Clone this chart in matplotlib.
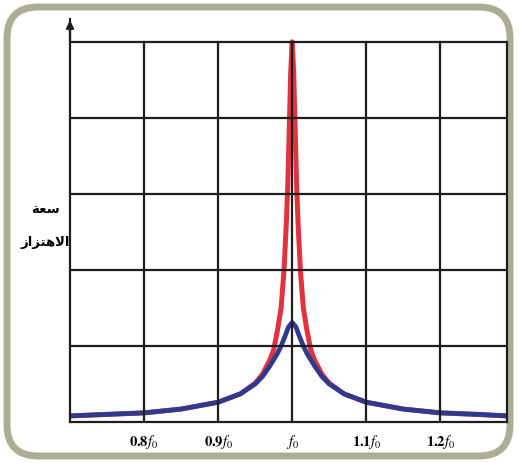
import numpy as np
import matplotlib
matplotlib.use("Agg")
import matplotlib.pyplot as plt
from matplotlib.patches import FancyBboxPatch

# frequency ratio f/f0 and amplitudes
x_blue = [0.70, 0.75, 0.80, 0.85, 0.90, 0.93, 0.95, 0.96, 0.97, 0.98, 0.985, 0.99, 0.995, 1.00,
          1.005, 1.01, 1.015, 1.02, 1.03, 1.04, 1.05, 1.07, 1.10, 1.15, 1.20, 1.25, 1.29]
y_blue = [0.08, 0.10, 0.12, 0.17, 0.26, 0.37, 0.50, 0.60, 0.74, 0.90, 1.00, 1.12, 1.25, 1.31,
          1.25, 1.12, 1.00, 0.90, 0.74, 0.60, 0.50, 0.37, 0.26, 0.17, 0.12, 0.10, 0.08]

x_red = [0.70, 0.75, 0.80, 0.85, 0.90, 0.93, 0.95, 0.96, 0.97, 0.975, 0.98, 0.985, 0.989,
         0.992, 0.994, 0.996, 0.998, 1.00,
         1.002, 1.004, 1.006, 1.008, 1.011, 1.015, 1.02, 1.025, 1.03, 1.04, 1.05,
         1.07, 1.10, 1.15, 1.20, 1.25, 1.29]
y_red = [0.08, 0.10, 0.12, 0.17, 0.26, 0.37, 0.51, 0.63, 0.82, 0.95, 1.20, 1.50, 2.00,
         2.60, 3.10, 3.85, 4.60, 5.00,
         4.60, 3.85, 3.10, 2.60, 2.00, 1.50, 1.20, 0.95, 0.82, 0.63, 0.51,
         0.37, 0.26, 0.17, 0.12, 0.10, 0.08]

tick_pos = [0.8, 0.9, 1.0, 1.1, 1.2]
tick_lab = [r'$\mathbf{0.8}f_0$', r'$\mathbf{0.9}f_0$', r'$f_0$', r'$\mathbf{1.1}f_0$', r'$\mathbf{1.2}f_0$']

# Arabic label, presentation forms in visual order
lab1 = '\uFE94\uFECC\uFEB3'                               # سعة
lab2 = '\uFEAF\uFE8D\uFEB0\uFE98\uFEEB\uFEFB\uFE8D'       # الاهتزاز

plt.rcParams['mathtext.fontset'] = 'stix'

fig = plt.figure(figsize=(5.2, 4.64), dpi=100)
fig.patch.set_facecolor('white')

frame = FancyBboxPatch((7 / 520, 7 / 464), 503 / 520, 449 / 464,
                       boxstyle="round,pad=0,rounding_size=0.06",
                       transform=fig.transFigure, fc='none', ec='#adad95', lw=5,
                       mutation_aspect=520 / 464, zorder=-1)
fig.patches.append(frame)

ax = fig.add_axes([70 / 520, 1 - 423 / 464, 437 / 520, (423 - 20) / 464])
ax.set_facecolor('none')
ax.set_xlim(0.7, 1.29)
ax.set_ylim(0, 5.3)

ax.plot(x_red, y_red, color='#e3323f', lw=3.6, zorder=2, solid_joinstyle='round')
ax.plot(x_blue, y_blue, color='#2e3a8e', lw=3.4, zorder=3, solid_joinstyle='round')

gc = '#1e1e1e'
for v in [0.8, 0.9, 1.0, 1.1, 1.2]:
    ax.plot([v, v], [0, 5], color=gc, lw=1.6, zorder=4)
for h in [1, 2, 3, 4, 5]:
    ax.plot([0.7, 1.29], [h, h], color=gc, lw=1.6, zorder=4)

ax.spines['top'].set_visible(False)
ax.spines['right'].set_bounds(0, 5)
for s in ['left', 'right', 'bottom']:
    ax.spines[s].set_color(gc)
    ax.spines[s].set_linewidth(1.6)
    ax.spines[s].set_zorder(5)

ax.annotate('', xy=(0.7, 5.32), xytext=(0.7, 5.0),
            arrowprops=dict(arrowstyle='-|>', color=gc, lw=1.6, mutation_scale=11),
            annotation_clip=False)

ax.set_xticks(tick_pos)
ax.set_xticklabels(tick_lab, fontsize=10.5)
ax.tick_params(axis='x', length=0, pad=7)
ax.set_yticks([])

fig.text(46 / 520, 1 - 210 / 464, lab1, fontsize=9.5, fontweight='bold',
         ha='center', va='center', family='DejaVu Sans')
fig.text(45 / 520, 1 - 243 / 464, lab2, fontsize=9.5, fontweight='bold',
         ha='center', va='center', family='DejaVu Sans')

fig.savefig('out.png', dpi=100)
